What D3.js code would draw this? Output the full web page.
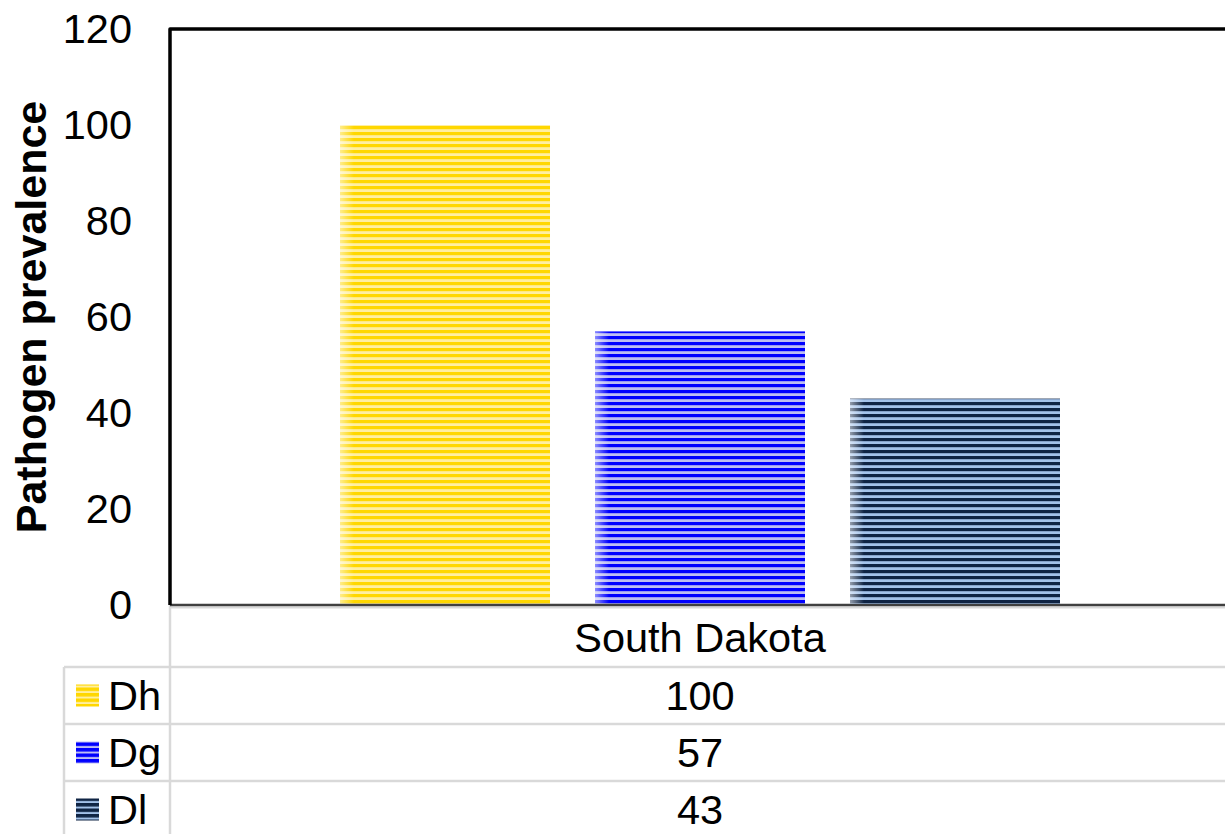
<!DOCTYPE html>
<html>
<head>
<meta charset="utf-8">
<script src="https://cdn.jsdelivr.net/npm/d3@7"></script>
<style>
  html, body { margin: 0; padding: 0; background: #fff; }
  svg { display: block; }
  text { font-family: "Liberation Sans", Arial, sans-serif; fill: #000; }
</style>
</head>
<body>
<svg id="chart" width="1225" height="834"></svg>
<script>
// ---- data ----
const categories = ["South Dakota"];
const seriesNames = ["Dh", "Dg", "Dl"];
const seriesValues = [100, 57, 43];
const yTicks = [0, 20, 40, 60, 80, 100, 120];
const yTitle = "Pathogen prevalence";

// ---- styles ----
const darkColors  = ["#FFD700", "#0000FF", "#0F2444"];
const lightColors = ["#FFEFA0", "#BDBDF2", "#A3C2EA"];
const FS = "41.5px";

const svg = d3.select("#chart");
const W = 1225, H = 834;
const plot = { left: 170, right: 1230, top: 29, bottom: 605 };

const y = d3.scaleLinear().domain([0, 120]).range([plot.bottom, plot.top]);
const x0 = d3.scaleBand().domain(categories).range([plot.left, plot.right]);
const x1 = d3.scaleBand().domain(seriesNames).range([0, x0.bandwidth()])
  .paddingInner(45 / 255).paddingOuter(170 / 255);

// patterns
const defs = svg.append("defs");
seriesNames.forEach((s, i) => {
  const p = defs.append("pattern").attr("id", "pat" + i)
    .attr("patternUnits", "userSpaceOnUse").attr("width", 8).attr("height", 6);
  p.append("rect").attr("width", 8).attr("height", 6).attr("fill", lightColors[i]);
  p.append("rect").attr("width", 8).attr("height", 3.2).attr("fill", darkColors[i]);
  const k = defs.append("pattern").attr("id", "key" + i)
    .attr("patternUnits", "userSpaceOnUse").attr("width", 8).attr("height", 5.5);
  k.append("rect").attr("width", 8).attr("height", 5.5).attr("fill", lightColors[i]);
  k.append("rect").attr("width", 8).attr("height", 3.5).attr("fill", darkColors[i]);
});
const fade = defs.append("linearGradient").attr("id", "fadeL").attr("x1", 0).attr("x2", 1).attr("y1", 0).attr("y2", 0);
fade.append("stop").attr("offset", 0).attr("stop-color", "#fff").attr("stop-opacity", 0.55);
fade.append("stop").attr("offset", 1).attr("stop-color", "#fff").attr("stop-opacity", 0);

// bars
const g = svg.append("g");
categories.forEach(cat => {
  const gx = x0(cat);
  seriesNames.forEach((s, i) => {
    const bx = gx + x1(s), bw = x1.bandwidth();
    const by = y(seriesValues[i]), bh = y(0) - y(seriesValues[i]);
    g.append("rect").attr("x", bx).attr("y", by).attr("width", bw).attr("height", bh)
      .attr("fill", "url(#pat" + i + ")");
    g.append("rect").attr("x", bx).attr("y", by).attr("width", 14).attr("height", bh)
      .attr("fill", "url(#fadeL)");
  });
});

// y axis ticks labels
const yAxis = d3.axisLeft(y).tickValues(yTicks).tickSize(0).tickPadding(38);
const ya = svg.append("g").attr("transform", `translate(${plot.left},0)`).call(yAxis);
ya.select(".domain").remove();
ya.selectAll("text").style("font-size", FS).style("font-family", '"Liberation Sans", Arial, sans-serif').attr("fill", "#000");

// y title
svg.append("text")
  .attr("transform", `translate(46,${(plot.top + plot.bottom) / 2}) rotate(-90)`)
  .attr("text-anchor", "middle")
  .style("font-size", "43px").style("font-weight", "bold")
  .text(yTitle);

// data table
const rowH = 57;
const tableTop = 667;
const tableLeft = 64;
const gridColor = "#D9D9D9";
const tg = svg.append("g");
for (let r = 0; r <= seriesNames.length; r++) {
  tg.append("line").attr("x1", tableLeft).attr("x2", W)
    .attr("y1", tableTop + r * rowH).attr("y2", tableTop + r * rowH)
    .attr("stroke", gridColor).attr("stroke-width", 2.5);
}
tg.append("line").attr("x1", plot.left).attr("x2", W).attr("y1", plot.bottom + 2.5).attr("y2", plot.bottom + 2.5)
  .attr("stroke", gridColor).attr("stroke-width", 2);
tg.append("line").attr("x1", tableLeft).attr("x2", tableLeft).attr("y1", tableTop).attr("y2", H)
  .attr("stroke", gridColor).attr("stroke-width", 2.5);
tg.append("line").attr("x1", plot.left).attr("x2", plot.left).attr("y1", plot.bottom).attr("y2", H)
  .attr("stroke", gridColor).attr("stroke-width", 2.5);

// category label
categories.forEach(cat => {
  svg.append("text").attr("x", x0(cat) + x0.bandwidth() / 2).attr("y", 637)
    .attr("text-anchor", "middle").attr("dominant-baseline", "central")
    .style("font-size", FS).text(cat);
});

seriesNames.forEach((s, i) => {
  const cy = tableTop + i * rowH + rowH / 2;
  svg.append("rect").attr("x", 76).attr("y", cy - 11).attr("width", 23).attr("height", 22)
    .attr("fill", "url(#key" + i + ")");
  svg.append("text").attr("x", 108).attr("y", cy).attr("dominant-baseline", "central")
    .style("font-size", FS).text(s);
  categories.forEach(cat => {
    svg.append("text").attr("x", x0(cat) + x0.bandwidth() / 2).attr("y", cy)
      .attr("text-anchor", "middle").attr("dominant-baseline", "central")
      .style("font-size", FS).text(seriesValues[i]);
  });
});

// axis baseline
svg.append("line").attr("x1", plot.left).attr("x2", W).attr("y1", plot.bottom).attr("y2", plot.bottom)
  .attr("stroke", "#404040").attr("stroke-width", 2.5);
// frame (top + left)
svg.append("path")
  .attr("d", `M${plot.left},${plot.bottom} L${plot.left},${plot.top} L${W + 5},${plot.top}`)
  .attr("fill", "none").attr("stroke", "#000").attr("stroke-width", 3.5)
  .attr("stroke-linejoin", "round");
</script>
</body>
</html>
